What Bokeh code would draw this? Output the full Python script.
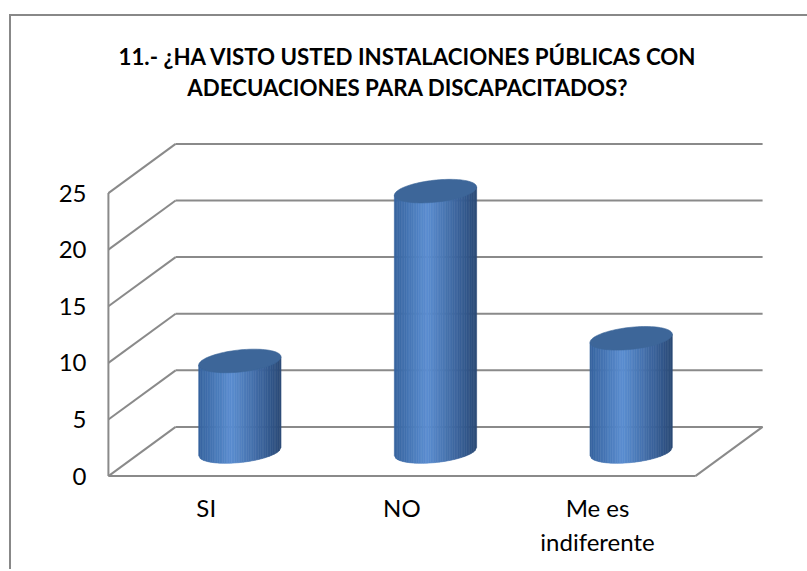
import numpy as np
from bokeh.plotting import figure
from bokeh.models import Range1d, FixedTicker, Title
from bokeh.embed import file_html
from bokeh.resources import INLINE

# ---------------- data ----------------
title_line1 = "11.- ¿HA VISTO USTED INSTALACIONES PÚBLICAS CON"
title_line2 = "ADECUACIONES PARA DISCAPACITADOS?"
categories = ["SI", "NO", "Me es\nindiferente"]
values = [8, 23, 10]
y_ticks = [0, 5, 10, 15, 20, 25]

# ---------------- geometry (styles) ----------------
BORDER_X, BORDER_Y, BORDER_W = 9, 14, 2
CX0, CY0 = BORDER_X + BORDER_W, BORDER_Y + BORDER_W     # page position of canvas
W, H = 807 - CX0, 569 - CY0
PX_X = 195.0          # px per category on the front plane
PX_Y = 11.28          # px per value unit
DEPTH_PX_X, DEPTH_PX_Y = 67.0, 49.0
depth_x = DEPTH_PX_X / PX_X
depth_y = DEPTH_PX_Y / PX_Y
pad_x, pad_y = 0.02, 0.3
n = len(categories)
ymax = y_ticks[-1]
x_start, x_end = -pad_x, n + depth_x + pad_x
y_start, y_end = -pad_y, ymax + depth_y + pad_y
frame_w = (x_end - x_start) * PX_X
frame_h = (y_end - y_start) * PX_Y
ox, oy = 108.0 - CX0, 474.0 - CY0      # canvas position of data (0, 0)
b_left = ox - pad_x * PX_X
b_bottom = H - (oy + pad_y * PX_Y)
b_top = H - b_bottom - frame_h
b_right = W - b_left - frame_w

FONT = "Lato"
GRID = "#8a8a8a"

p = figure(width=W, height=H, output_backend="svg", toolbar_location=None,
           x_range=Range1d(x_start, x_end), y_range=Range1d(y_start, y_end),
           min_border_left=int(round(b_left)), min_border_right=int(round(b_right)),
           min_border_top=int(round(b_top)), min_border_bottom=int(round(b_bottom)),
           title=None)
p.outline_line_color = None
p.xgrid.visible = False
p.ygrid.visible = False
p.background_fill_color = "white"
p.border_fill_color = "white"
p.styles = {"margin-left": f"{BORDER_X}px", "margin-top": f"{BORDER_Y}px",
            "border-left": f"{BORDER_W}px solid #888888",
            "border-top": f"{BORDER_W}px solid #888888",
            "border-right": "none", "border-bottom": "none",
            "box-sizing": "content-box"}

# spacer between title and plot area, then the two-line title
spacer = Title(text=" ", text_font=FONT, text_font_size="22.3px",
               text_line_height=1.15, standoff=0)
p.add_layout(spacer, "above")
t = Title(text=title_line1 + "\n" + title_line2, align="left", offset=14,
          vertical_align="top", text_align="center", text_font=FONT,
          text_font_size="22.3px", text_line_height=1.15, text_font_style="bold",
          text_color="black", standoff=18)
p.add_layout(t, "above")

# axes
p.yaxis.ticker = FixedTicker(ticks=y_ticks)
p.yaxis.axis_line_color = None
p.yaxis.major_tick_line_color = None
p.yaxis.minor_tick_line_color = None
p.yaxis.major_label_standoff = 12
p.yaxis.major_label_text_font = FONT
p.yaxis.major_label_text_font_size = "24px"
p.yaxis.major_label_text_color = "black"

cat_pos = [i + 0.5 for i in range(n)]
p.xaxis.ticker = FixedTicker(ticks=cat_pos)
p.xaxis.major_label_overrides = {c: lab for c, lab in zip(cat_pos, categories)}
p.xaxis.axis_line_color = None
p.xaxis.major_tick_line_color = None
p.xaxis.minor_tick_line_color = None
p.xaxis.major_label_standoff = 7
p.xaxis.major_label_text_font = FONT
p.xaxis.major_label_text_font_size = "24px"
p.xaxis.major_label_text_color = "black"

# walls: back-wall gridlines, side-wall diagonals
p.segment(x0=[depth_x] * len(y_ticks), y0=[t_ + depth_y for t_ in y_ticks],
          x1=[n + depth_x] * len(y_ticks), y1=[t_ + depth_y for t_ in y_ticks],
          line_color=GRID, line_width=2)
p.segment(x0=[0] * len(y_ticks), y0=y_ticks,
          x1=[depth_x] * len(y_ticks), y1=[t_ + depth_y for t_ in y_ticks],
          line_color=GRID, line_width=2)
# front-left edge, floor front edge, floor right edge
p.segment(x0=[0, 0, n], y0=[0, 0, 0], x1=[0, n, n + depth_x], y1=[ymax, 0, depth_y],
          line_color=GRID, line_width=2)

# cylinders
A_PX, B_PX, SHEAR = 41.0, 11.0, 0.1
N_STRIPS = 48
stops = [(-1.0, (0x36, 0x63, 0x9e)), (-0.2, (0x5b, 0x8e, 0xd1)),
         (0.75, (0x33, 0x58, 0x8c)), (1.0, (0x2b, 0x4a, 0x75))]


def grad(u):
    for (u0, c0), (u1, c1) in zip(stops[:-1], stops[1:]):
        if u0 <= u <= u1:
            f = (u - u0) / (u1 - u0)
            c = [int(round(a + (b - a) * f)) for a, b in zip(c0, c1)]
            return "#%02x%02x%02x" % tuple(c)
    return "#%02x%02x%02x" % stops[-1][1]


sx, sy, scol = [], [], []
ex, ey = [], []
us = np.linspace(-1, 1, N_STRIPS + 1)
tt = np.linspace(0, 2 * np.pi, 90)
for i, v in enumerate(values):
    cx = i + 0.5 + depth_x / 2
    base = depth_y / 2
    top = v + depth_y / 2

    def bot(u):
        return base + (-B_PX * np.sqrt(max(0.0, 1 - u * u)) + SHEAR * A_PX * u) / PX_Y

    def tp(u):
        return top + SHEAR * A_PX * u / PX_Y

    for k in range(N_STRIPS):
        u0, u1 = us[k], us[k + 1]
        xa, xb = cx + A_PX * u0 / PX_X, cx + A_PX * u1 / PX_X
        sx.append([xa, xb, xb, xa])
        sy.append([bot(u0), bot(u1), tp(u1), tp(u0)])
        scol.append(grad((u0 + u1) / 2))
    ex.append(list(cx + A_PX * np.cos(tt) / PX_X))
    ey.append(list(top + (B_PX * np.sin(tt) + SHEAR * A_PX * np.cos(tt)) / PX_Y))

p.patches(xs=sx, ys=sy, fill_color=scol, line_color=scol, line_width=0.6)
p.patches(xs=ex, ys=ey, fill_color="#3d6699", line_color="#3d6699", line_width=0.6)

open("out.html", "w").write(file_html(p, INLINE))
